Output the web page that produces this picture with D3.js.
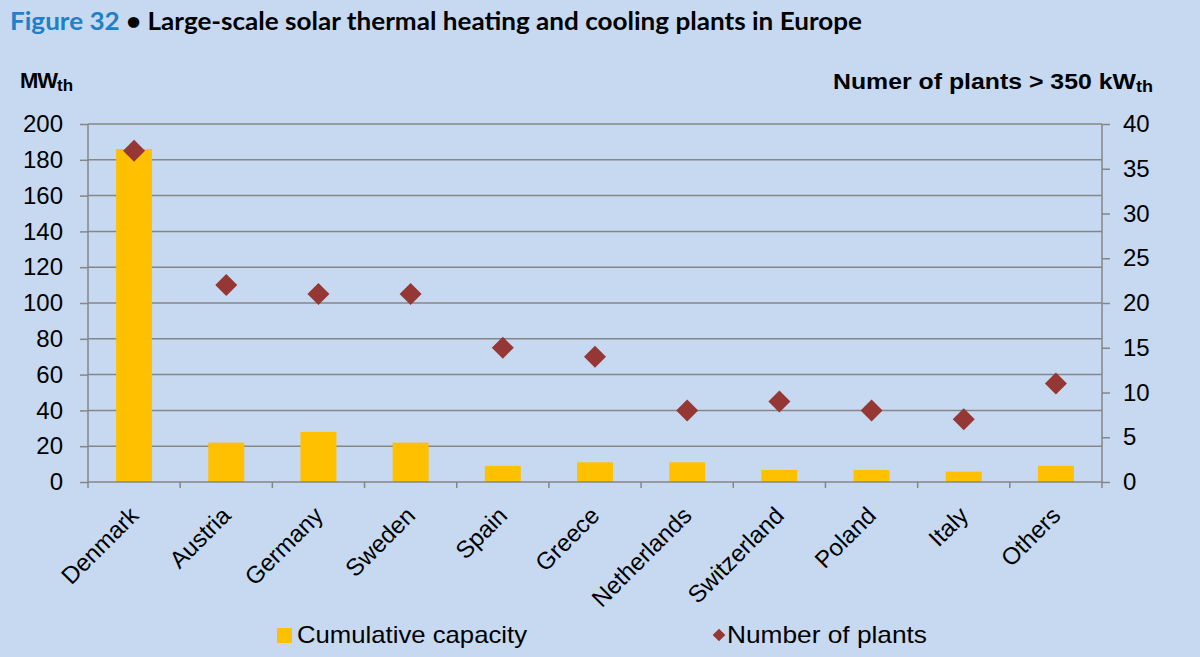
<!DOCTYPE html>
<html><head><meta charset="utf-8">
<script src="https://cdn.jsdelivr.net/npm/d3@7"></script>
<style>body{margin:0;background:#c6d9f1;}svg{display:block;}</style>
</head><body>
<script>
const categories = ["Denmark","Austria","Germany","Sweden","Spain","Greece","Netherlands","Switzerland","Poland","Italy","Others"];
const capacity = [186,22,28,22,9,11,11,6.7,6.7,5.8,9];
const plants = [37,22,21,21,15,14,8,9,8,7,11];
const leftTicks = [0,20,40,60,80,100,120,140,160,180,200];
const rightTicks = [0,5,10,15,20,25,30,35,40];

const W=1200,H=657;
const svg=d3.select("body").append("svg").attr("width",W).attr("height",H);
svg.append("rect").attr("width",W).attr("height",H).attr("fill","#c6d9f1");
const L=88,R=1102,T=124,B=482;
const x=d3.scaleBand().domain(categories).range([L,R]).paddingInner(0.61).paddingOuter(0.305);
const xb=d3.scaleBand().domain(categories).range([L,R]);
const yL=d3.scaleLinear().domain([0,200]).range([B,T]);
const yR=d3.scaleLinear().domain([0,40]).range([B,T]);
const grid="#868686";
const font="'Liberation Sans', Arial, sans-serif";

// title
const t=svg.append("text").attr("x",10).attr("y",30).attr("font-family","Lato, 'Open Sans', sans-serif").attr("font-weight","bold").attr("font-size",24)
  .attr("textLength",852).attr("lengthAdjust","spacingAndGlyphs");
t.append("tspan").attr("fill","#1f7fc8").text("Figure 32");
t.append("tspan").attr("fill","#000").text(" \u2022 Large-scale solar thermal heating and cooling plants in Europe");

// axis titles
const a1=svg.append("text").attr("x",20).attr("y",88).attr("font-family",font).attr("font-weight","bold").attr("font-size",22).attr("letter-spacing","-1");
a1.append("tspan").text("MW");
a1.append("tspan").attr("font-size",17).attr("dy",3).attr("letter-spacing","0").text("th");
const a2=svg.append("text").attr("x",833).attr("y",89).attr("font-family",font).attr("font-weight","bold").attr("font-size",22)
  .attr("textLength",320).attr("lengthAdjust","spacingAndGlyphs");
a2.append("tspan").text("Numer of plants  > 350 kW");
a2.append("tspan").attr("font-size",16).attr("dy",3).text("th");

// gridlines
svg.append("g").selectAll("line").data(leftTicks.filter(d=>d>0)).join("line")
 .attr("x1",L).attr("x2",R).attr("y1",d=>yL(d)).attr("y2",d=>yL(d)).attr("stroke",grid).attr("stroke-width",1.5);

// left axis
const gl=svg.append("g").attr("transform",`translate(${L},0)`).call(d3.axisLeft(yL).tickValues(leftTicks).tickSize(8).tickPadding(17));
gl.select(".domain").remove();
gl.append("line").attr("x1",0).attr("x2",0).attr("y1",T).attr("y2",B).attr("stroke",grid).attr("stroke-width",1.5);
gl.selectAll(".tick line").attr("stroke",grid).attr("stroke-width",1.5);
gl.selectAll(".tick text").attr("font-family",font).attr("font-size",24).attr("fill","#000");

// right axis
const gr=svg.append("g").attr("transform",`translate(${R},0)`).call(d3.axisRight(yR).tickValues(rightTicks).tickSize(8).tickPadding(13));
gr.select(".domain").remove();
gr.append("line").attr("x1",0).attr("x2",0).attr("y1",T).attr("y2",B).attr("stroke",grid).attr("stroke-width",1.5);
gr.selectAll(".tick line").attr("stroke",grid).attr("stroke-width",1.5);
gr.selectAll(".tick text").attr("font-family",font).attr("font-size",24).attr("fill","#000");

// bars
svg.append("g").selectAll("rect").data(categories).join("rect")
 .attr("x",d=>x(d)).attr("width",x.bandwidth())
 .attr("y",(d,i)=>yL(capacity[i])).attr("height",(d,i)=>B-yL(capacity[i])).attr("fill","#ffc000");

// bottom axis
svg.append("line").attr("x1",L).attr("x2",R).attr("y1",B).attr("y2",B).attr("stroke",grid).attr("stroke-width",1.5);
const bounds=categories.map(c=>xb(c)).concat([R]);
svg.append("g").selectAll("line").data(bounds).join("line")
 .attr("x1",d=>d).attr("x2",d=>d).attr("y1",B).attr("y2",B+6).attr("stroke",grid).attr("stroke-width",1.5);
svg.append("g").selectAll("text").data(categories).join("text")
 .attr("transform",d=>`translate(${xb(d)+xb.bandwidth()/2+6},${B+35}) rotate(-45)`)
 .attr("text-anchor","end").attr("font-family",font).attr("font-size",24).text(d=>d);

// diamonds
const dsym=d3.symbol().type(d3.symbolSquare).size(242);
svg.append("g").selectAll("path").data(categories).join("path")
 .attr("d",dsym)
 .attr("transform",(d,i)=>`translate(${xb(d)+xb.bandwidth()/2},${yR(plants[i])}) rotate(45)`)
 .attr("fill","#953735");

// legend
svg.append("rect").attr("x",277).attr("y",628).attr("width",15).attr("height",15).attr("fill","#ffc000");
svg.append("text").attr("x",297).attr("y",643).attr("font-family",font).attr("font-size",24)
  .attr("textLength",230).attr("lengthAdjust","spacingAndGlyphs").text("Cumulative capacity");
svg.append("path").attr("d",d3.symbol().type(d3.symbolSquare).size(80)).attr("transform","translate(719,635) rotate(45)").attr("fill","#953735");
svg.append("text").attr("x",727).attr("y",643).attr("font-family",font).attr("font-size",24)
  .attr("textLength",200).attr("lengthAdjust","spacingAndGlyphs").text("Number of plants");
</script>
</body></html>
